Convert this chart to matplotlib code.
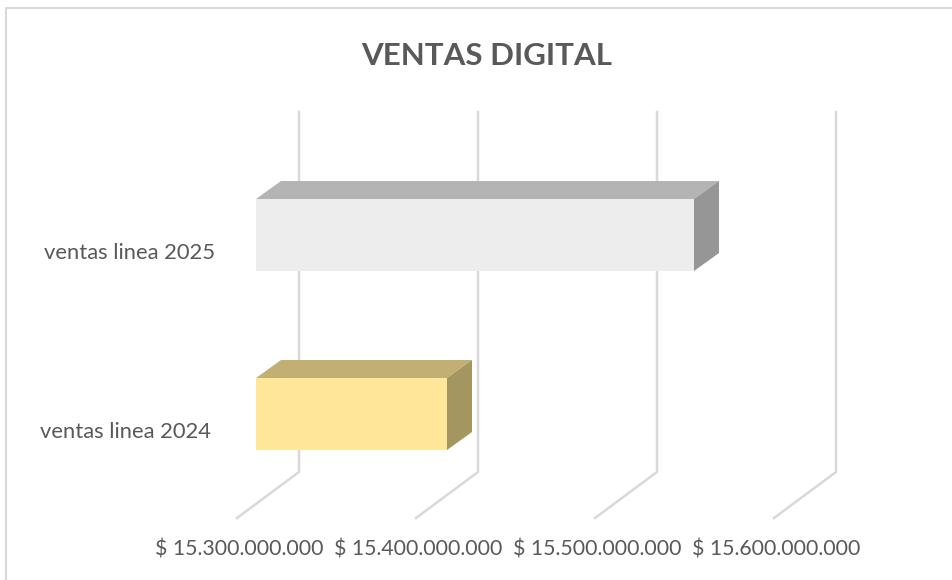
import matplotlib
matplotlib.use('Agg')
import matplotlib.pyplot as plt
from matplotlib.patches import Polygon, Rectangle

categories = ['ventas linea 2024', 'ventas linea 2025']
ventas = [15406700000, 15544700000]
front_colors = ['#FFE699', '#EDEDED']
top_colors = ['#C2AF74', '#B4B4B4']
side_colors = ['#A39660', '#969696']

ticks = [15300000000, 15400000000, 15500000000, 15600000000]
tick_labels = ['$ 15.300.000.000', '$ 15.400.000.000', '$ 15.500.000.000', '$ 15.600.000.000']

W, H = 953, 580
PX_X = 1e8 / 179      # value per pixel
PX_Y = 1 / 179        # category per pixel
X0 = 15300000000
GRID = '#D9D9D9'
TEXT = '#595959'

plt.rcParams['font.family'] = ['Lato', 'DejaVu Sans']

fig = plt.figure(figsize=(W / 100, H / 100), dpi=100)
ax = fig.add_axes([0, 0, 1, 1])
# axes fills the figure, scaled so 15.3e9 sits at the bar base and category 0 at the 2024 bar
ax.set_xlim(X0 - 256 * PX_X, X0 + (W - 256) * PX_X)
ax.set_ylim((414 - H) * PX_Y, 414 * PX_Y)
ax.axis('off')

# chart frame
ax.plot([X0 - 250.5 * PX_X, X0 - 250.5 * PX_X, X0 + 697 * PX_X],
        [(414 - H) * PX_Y, (414 - 8) * PX_Y, (414 - 8) * PX_Y], color=GRID, lw=1.5, zorder=1)

# gridlines: back wall then floor
for t, lab in zip(ticks, tick_labels):
    xb = t + 43 * PX_X
    xf = t - 19 * PX_X
    ax.plot([xb, xb, xf], [(414 - 112) * PX_Y, (414 - 472) * PX_Y, (414 - 518) * PX_Y],
            color=GRID, lw=1.8, zorder=2, solid_joinstyle='miter')
    ax.text(t - 17 * PX_X, (414 - 549) * PX_Y, lab, ha='center', va='center',
            fontsize=15.3, color=TEXT)

# 3d bars
half = 36 * PX_Y
dx = 25 * PX_X
dy = 18 * PX_Y
for i, v in enumerate(ventas):
    ax.add_patch(Rectangle((X0, i - half), v - X0, 2 * half, fc=front_colors[i], ec='none', zorder=3))
    ax.add_patch(Polygon([(X0, i + half), (v, i + half), (v + dx, i + half + dy), (X0 + dx, i + half + dy)],
                         fc=top_colors[i], ec='none', zorder=3))
    ax.add_patch(Polygon([(v, i - half), (v, i + half), (v + dx, i + half + dy), (v + dx, i - half + dy)],
                         fc=side_colors[i], ec='none', zorder=3))

ax.text(X0 - 131 * PX_X, -18 * PX_Y, categories[0], ha='center', va='center', fontsize=15.8, color=TEXT)
ax.text(X0 - 126 * PX_X, 1 - 18 * PX_Y, categories[1], ha='center', va='center', fontsize=15.8, color=TEXT)

ax.text(X0 + 231 * PX_X, (414 - 56) * PX_Y, 'VENTAS DIGITAL', ha='center', va='center',
        fontsize=22.5, fontweight='bold', color=TEXT)

fig.savefig('out.png', dpi=100)
